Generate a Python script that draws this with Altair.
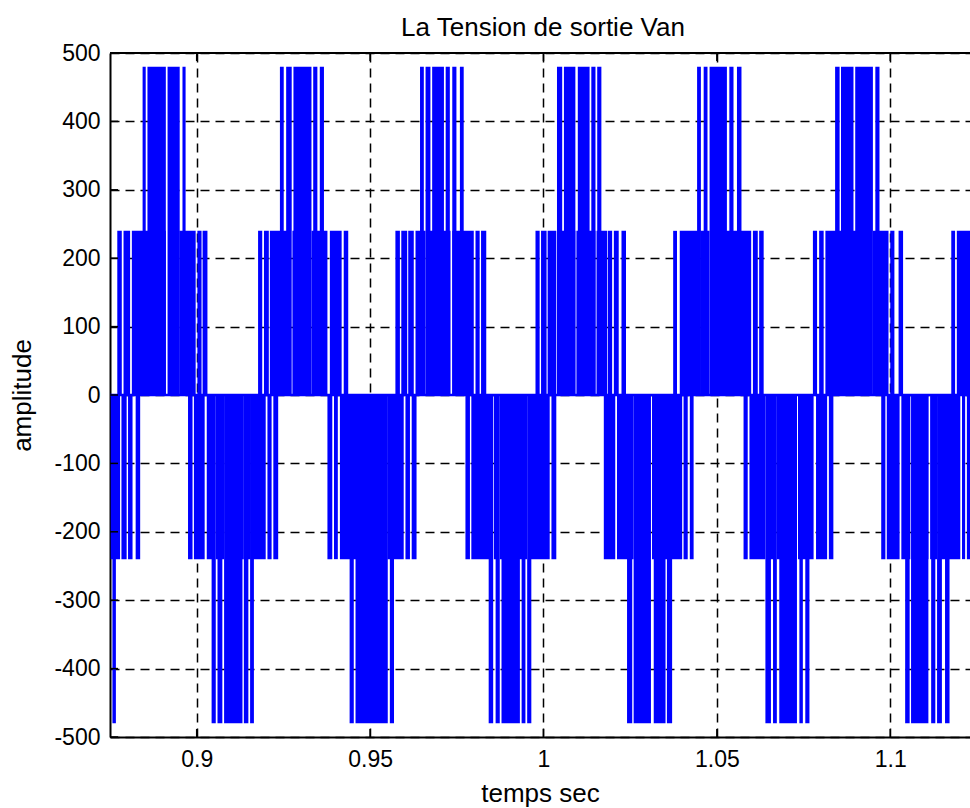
import altair as alt
import pandas as pd

# ---- text ----
chart_title = "La Tension de sortie Van"
x_title = "temps sec"
y_title = "amplitude"

# ---- axes ----
x_ticks = [0.9, 0.95, 1.0, 1.05, 1.1]
y_ticks = [-500, -400, -300, -200, -100, 0, 100, 200, 300, 400, 500]
x_domain = [0.875, 1.123]
y_domain = [-500, 500]

# ---- waveform: visible blue blocks (start time, end time) per level ----
pos_240 = [
    (0.8771, 0.8784), (0.8789, 0.8808), (0.8813, 0.8862), (0.8865, 0.8911), (0.8919, 0.8945),
    (0.8950, 0.8997), (0.9002, 0.9014), (0.9017, 0.9031),
    (0.9177, 0.9189), (0.9194, 0.9208), (0.9211, 0.9271), (0.9276, 0.9329), (0.9331, 0.9377),
    (0.9384, 0.9418), (0.9424, 0.9437),
    (0.9573, 0.9586), (0.9590, 0.9607), (0.9610, 0.9626), (0.9631, 0.9660), (0.9665, 0.9732),
    (0.9737, 0.9799), (0.9804, 0.9816), (0.9820, 0.9835),
    (0.9977, 0.9989), (0.9993, 1.0009), (1.0012, 1.0037), (1.0039, 1.0092), (1.0095, 1.0150),
    (1.0153, 1.0184), (1.0186, 1.0198), (1.0203, 1.0217), (1.0225, 1.0238),
    (1.0374, 1.0385), (1.0393, 1.0450), (1.0452, 1.0479), (1.0481, 1.0539), (1.0542, 1.0566),
    (1.0568, 1.0599), (1.0604, 1.0618), (1.0622, 1.0635),
    (1.0777, 1.0789), (1.0795, 1.0808), (1.0813, 1.0861), (1.0864, 1.0890), (1.0892, 1.0947),
    (1.0950, 1.0995), (1.1000, 1.1012), (1.1024, 1.1037),
    (1.1176, 1.1187), (1.1192, 1.1250),
]
pos_480 = [
    (0.8844, 0.8853), (0.8858, 0.8911), (0.8916, 0.8951), (0.8959, 0.8968),
    (0.9240, 0.9251), (0.9258, 0.9274), (0.9279, 0.9331), (0.9336, 0.9348), (0.9355, 0.9367),
    (0.9644, 0.9655), (0.9660, 0.9674), (0.9679, 0.9713), (0.9718, 0.9730), (0.9737, 0.9749),
    (0.9759, 0.9770),
    (1.0039, 1.0054), (1.0059, 1.0092), (1.0099, 1.0133), (1.0138, 1.0150), (1.0155, 1.0167),
    (1.0443, 1.0454), (1.0462, 1.0473), (1.0479, 1.0529), (1.0536, 1.0548), (1.0558, 1.0571),
    (1.0841, 1.0854), (1.0858, 1.0894), (1.0899, 1.0950), (1.0957, 1.0969),
]
neg_240 = [
    (0.8752, 0.8779), (0.8783, 0.8798), (0.8802, 0.8815), (0.8824, 0.8837),
    (0.8975, 0.8988), (0.8992, 0.9023), (0.9029, 0.9050), (0.9055, 0.9079), (0.9082, 0.9136),
    (0.9141, 0.9156), (0.9161, 0.9199), (0.9204, 0.9216), (0.9221, 0.9235),
    (0.9377, 0.9391), (0.9396, 0.9407), (0.9413, 0.9461), (0.9463, 0.9548), (0.9550, 0.9597),
    (0.9602, 0.9615), (0.9620, 0.9634),
    (0.9775, 0.9788), (0.9792, 0.9852), (0.9857, 0.9871), (0.9874, 0.9924), (0.9929, 0.9953),
    (0.9958, 1.0018), (1.0023, 1.0037),
    (1.0174, 1.0207), (1.0212, 1.0260), (1.0265, 1.0308), (1.0313, 1.0337), (1.0347, 1.0400),
    (1.0404, 1.0416), (1.0422, 1.0433),
    (1.0577, 1.0589), (1.0594, 1.0640), (1.0645, 1.0669), (1.0673, 1.0731), (1.0734, 1.0779),
    (1.0786, 1.0818), (1.0823, 1.0836),
    (1.0974, 1.0986), (1.0990, 1.1027), (1.1032, 1.1058), (1.1062, 1.1110), (1.1115, 1.1135),
    (1.1139, 1.1202), (1.1207, 1.1216), (1.1221, 1.1250),
]
neg_480 = [
    (0.8757, 0.8767),
    (0.9043, 0.9055), (0.9060, 0.9074), (0.9079, 0.9132), (0.9136, 0.9149), (0.9154, 0.9165),
    (0.9441, 0.9453), (0.9458, 0.9551), (0.9557, 0.9569),
    (0.9842, 0.9855), (0.9862, 0.9874), (0.9879, 0.9932), (0.9937, 0.9948), (0.9953, 0.9965),
    (1.0241, 1.0256), (1.0260, 1.0310), (1.0318, 1.0352), (1.0356, 1.0371),
    (1.0640, 1.0656), (1.0662, 1.0673), (1.0680, 1.0731), (1.0738, 1.0748), (1.0755, 1.0767),
    (1.1043, 1.1056), (1.1060, 1.1110), (1.1118, 1.1130), (1.1135, 1.1149), (1.1158, 1.1171),
]

rows = []
for lvl, blocks in ((240, pos_240), (480, pos_480), (-240, neg_240), (-480, neg_480)):
    for s, e in blocks:
        rows.append({"t0": s, "t1": e, "v": lvl})
df_blocks = pd.DataFrame(rows)
df_zero = pd.DataFrame({"v": [0]})
df_xt = pd.DataFrame({"t": x_ticks})
df_yt = pd.DataFrame({"v": y_ticks})

W, H = 860, 684
BLUE = "#0000ff"
FONT = "Liberation Sans"

x_scale = alt.Scale(domain=x_domain, nice=False, zero=False)
y_scale = alt.Scale(domain=y_domain, nice=False, zero=False)
x_axis = alt.Axis(values=x_ticks, labelExpr="datum.value", labelPadding=11, titlePadding=9,
                  grid=True, ticks=False, labelOverlap=False, labelFlush=False)
y_axis = alt.Axis(values=y_ticks, labelExpr="datum.value", labelPadding=10, titlePadding=18,
                  grid=True, ticks=False, labelOverlap=False, labelFlush=False)

blocks = alt.Chart(df_blocks).mark_rect(color=BLUE, clip=True).encode(
    x=alt.X("t0:Q", scale=x_scale, axis=x_axis, title=x_title),
    x2="t1:Q",
    y=alt.Y("v:Q", scale=y_scale, axis=y_axis, title=y_title),
    y2=alt.datum(0),
)

zero_line = alt.Chart(df_zero).mark_rule(color=BLUE, strokeWidth=2.5).encode(
    y=alt.Y("v:Q", scale=y_scale, axis=y_axis, title=y_title),
)

xt_bottom = alt.Chart(df_xt).mark_rule(color="black", strokeWidth=1.5).encode(
    x=alt.X("t:Q", scale=x_scale, axis=x_axis, title=x_title),
    y=alt.value(H), y2=alt.value(H - 8),
)
xt_top = alt.Chart(df_xt).mark_rule(color="black", strokeWidth=1.5).encode(
    x=alt.X("t:Q", scale=x_scale, axis=x_axis, title=x_title),
    y=alt.value(0), y2=alt.value(8),
)
yt_left = alt.Chart(df_yt).mark_rule(color="black", strokeWidth=1.5).encode(
    y=alt.Y("v:Q", scale=y_scale, axis=y_axis, title=y_title),
    x=alt.value(0), x2=alt.value(8),
)
top_frame = alt.Chart(df_zero).mark_rule(color="black", strokeWidth=2).encode(
    x=alt.value(0), x2=alt.value(W), y=alt.value(0),
)

chart = alt.layer(blocks, zero_line, xt_bottom, xt_top, yt_left, top_frame).properties(
    width=W, height=H,
    autosize=alt.AutoSizeParams(type="none"),
    padding={"left": 110, "top": 53, "right": 0, "bottom": 71},
    title=alt.TitleParams(text=chart_title, font=FONT, fontSize=26, fontWeight="normal",
                          color="black", anchor="middle", frame="group", offset=1, dx=3),
).configure_view(stroke=None).configure_axis(
    labelFont=FONT, labelFontSize=23, labelColor="black",
    titleFont=FONT, titleFontSize=26, titleFontWeight="normal", titleColor="black",
    domainColor="black", domainWidth=2,
    gridColor="black", gridDash=[9, 6], gridWidth=1.5, gridOpacity=1,
    zindex=1,
)

chart.save("out.html", embed_options={"renderer": "svg", "actions": False})
